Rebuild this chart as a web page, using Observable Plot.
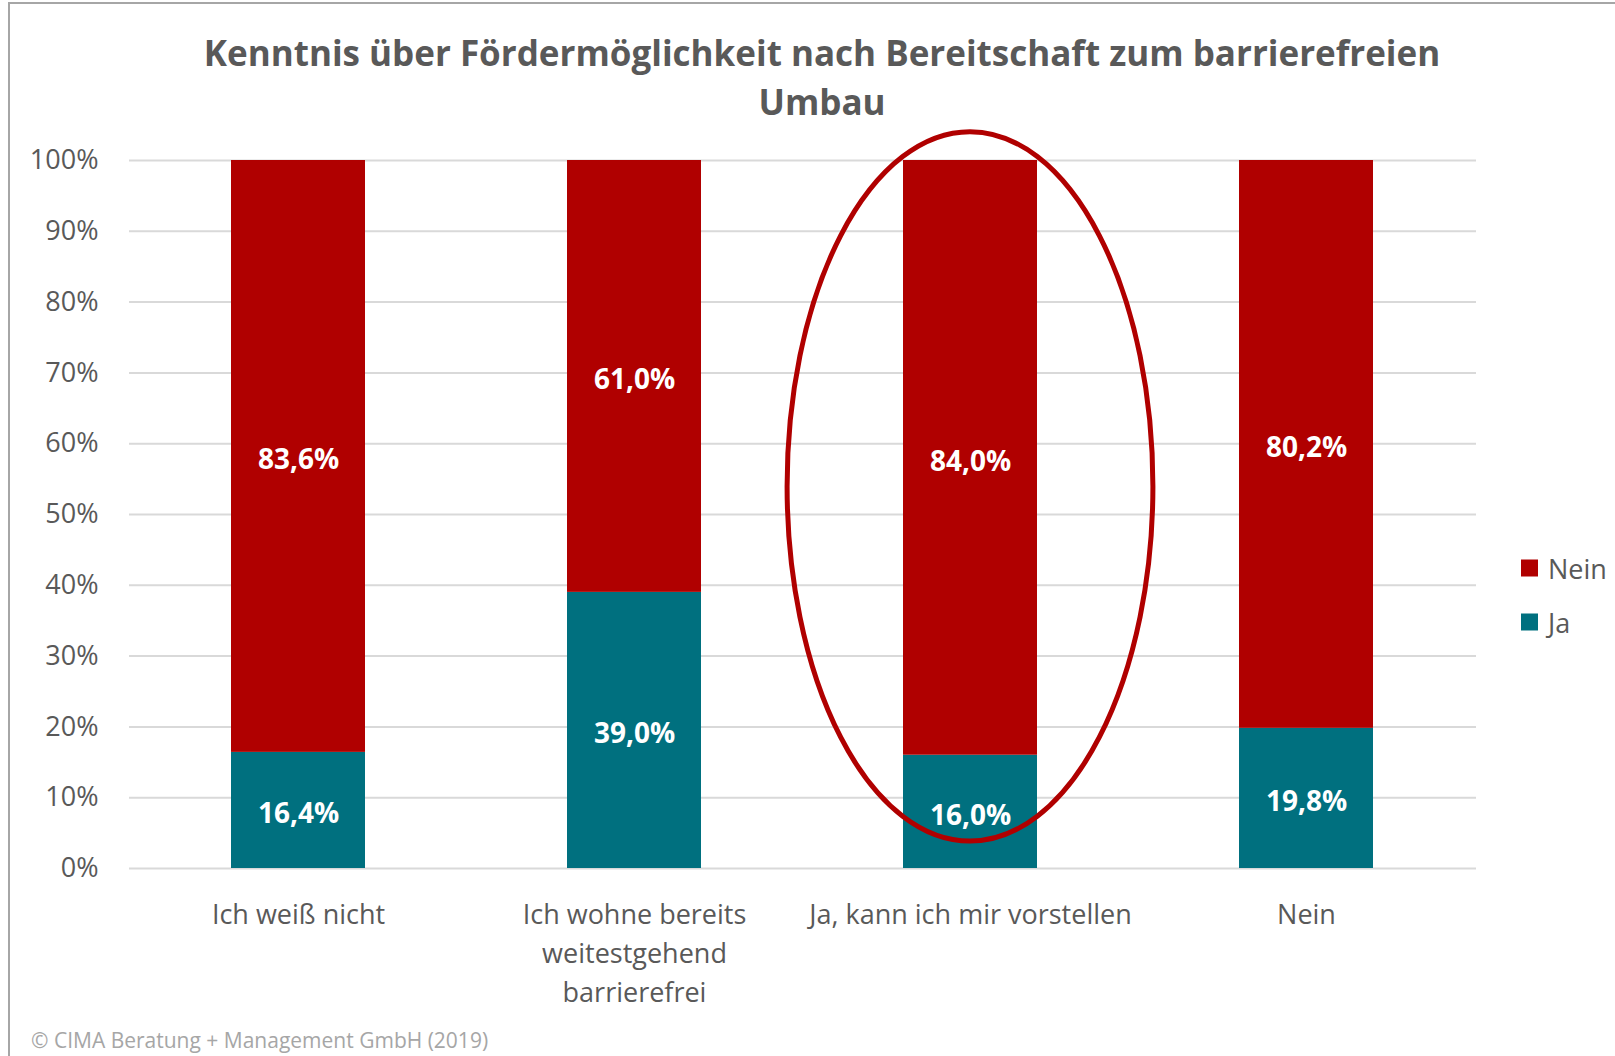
<!DOCTYPE html>
<html><head><meta charset="utf-8">
<script src="https://cdn.jsdelivr.net/npm/d3@7"></script>
<script src="https://cdn.jsdelivr.net/npm/@observablehq/plot@0.6"></script>
<style>
body{margin:0;background:#fff;font-family:"Open Sans",sans-serif;}
#wrap{position:relative;width:1615px;height:1056px;overflow:hidden;background:#fff;}
#frame{position:absolute;left:8px;top:2px;width:1700px;height:1200px;border-left:2px solid #a6a6a6;border-top:2px solid #a6a6a6;}
#title{height:115px;position:relative;}
.t{position:absolute;left:822px;transform:translate(-50%,-50%);white-space:nowrap;font-weight:700;font-size:35px;color:#595959;}
#chart{position:relative;}
#chart svg{overflow:visible;display:block;}
.lg{position:absolute;left:1521px;display:flex;align-items:center;transform:translateY(-50%);font-size:27px;color:#595959;}
.lg span.sw{display:inline-block;width:17px;height:17px;margin-right:10px;}
#footer{position:absolute;left:31px;top:1040px;transform:translateY(-50%);font-size:21px;color:#a6a6a6;white-space:nowrap;}
</style></head>
<body>
<div id="wrap">
  <div id="frame"></div>
  <div id="title"></div>
  <div id="chart"></div>
  <div id="legend"></div>
  <div id="footer"></div>
</div>
<script>
// ---- data ----
const titleLines = ["Kenntnis über Fördermöglichkeit nach Bereitschaft zum barrierefreien", "Umbau"];
const categories = ["Ich weiß nicht", "Ich wohne bereits weitestgehend barrierefrei", "Ja, kann ich mir vorstellen", "Nein"];
const tickLabels = ["Ich weiß nicht", "Ich wohne bereits\nweitestgehend\nbarrierefrei", "Ja, kann ich mir vorstellen", "Nein"];
const series = ["Nein", "Ja"];
const seriesColors = ["#b00000", "#00707f"];
const jaValues = [16.4, 39.0, 16.0, 19.8];
const neinValues = [83.6, 61.0, 84.0, 80.2];
const yTicks = [0, 10, 20, 30, 40, 50, 60, 70, 80, 90, 100];
const highlight = {category: "Ja, kann ich mir vorstellen", yTop: 104.0, yBottom: 3.8, bandsWide: 2.73};
const footerText = "© CIMA Beratung + Management GmbH (2019)";

// ---- table ----
const rows = [];
categories.forEach((c, i) => {
  rows.push({category: c, series: "Ja", value: jaValues[i]});
  rows.push({category: c, series: "Nein", value: neinValues[i]});
});
const fmt = v => v.toFixed(1).replace(".", ",") + "%";

// title
const title = document.getElementById("title");
const titleY = [51.5, 101];
titleLines.forEach((s, i) => {
  const d = document.createElement("div");
  d.className = "t"; d.style.top = titleY[i] + "px"; d.textContent = s;
  title.appendChild(d);
});

const chart = Plot.plot({
  width: 1615, height: 895,
  marginTop: 45, marginBottom: 142, marginLeft: 129, marginRight: 139,
  style: {fontFamily: "Open Sans", background: "transparent", overflow: "visible"},
  x: {domain: categories, paddingInner: 0.6, paddingOuter: 0.3, label: null},
  y: {domain: [0, 100], label: null},
  color: {domain: series, range: seriesColors},
  marks: [
    Plot.gridY(yTicks, {stroke: "#d9d9d9", strokeWidth: 2, strokeOpacity: 1}),
    Plot.barY(rows, {x: "category", y: "value", fill: "series"}),
    Plot.text(rows, Plot.stackY({x: "category", y: "value", text: d => fmt(d.value), fill: "white", fontSize: 28, fontWeight: 700, dy: 4})),
    Plot.axisY(yTicks, {tickSize: 0, tickPadding: 31, tickFormat: d => d + "%", fontSize: 27, fill: "#595959", label: null}),
    Plot.axisX({tickSize: 0, tickPadding: 28, tickFormat: d => tickLabels[categories.indexOf(d)], fontSize: 27, fill: "#595959", lineHeight: 1.44, label: null})
  ]
});
document.getElementById("chart").appendChild(chart);

// highlight ellipse (annotation positioned through the chart's scales)
const sx = chart.scale("x"), sy = chart.scale("y");
const cx = sx.apply(highlight.category) + sx.bandwidth / 2;
const yT = sy.apply(highlight.yTop), yB = sy.apply(highlight.yBottom);
d3.select(chart).append("ellipse")
  .attr("cx", cx).attr("cy", (yT + yB) / 2)
  .attr("rx", sx.bandwidth * highlight.bandsWide / 2).attr("ry", (yB - yT) / 2)
  .attr("fill", "none").attr("stroke", "#b00000").attr("stroke-width", 5);

// legend
const legend = document.getElementById("legend");
const legendY = [567.5, 622];
series.forEach((s, i) => {
  const d = document.createElement("div");
  d.className = "lg"; d.style.top = legendY[i] + "px";
  d.innerHTML = `<span class="sw" style="background:${seriesColors[i]}"></span><span>${s}</span>`;
  legend.appendChild(d);
});

document.getElementById("footer").textContent = footerText;
</script>
</body></html>
